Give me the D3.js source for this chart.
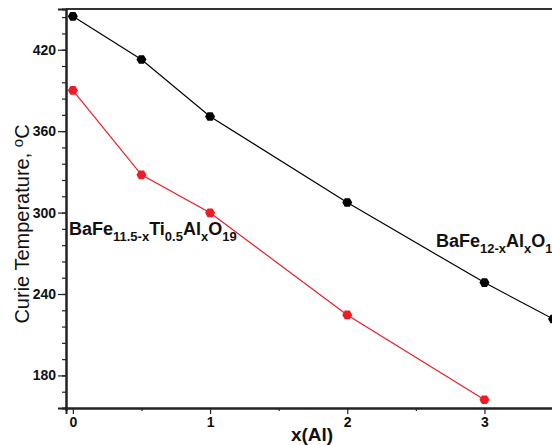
<!DOCTYPE html>
<html><head><meta charset="utf-8">
<script src="https://cdn.jsdelivr.net/npm/d3@7"></script>
<style>body{margin:0;background:#fff}svg{display:block}text{font-family:"Liberation Sans",Arial,sans-serif}</style>
</head><body>
<script>
const xAl = [0, 0.5, 1, 2, 3, 3.5];
const tcBaFeAl = [444.6, 412.8, 370.8, 307.4, 248.4, 221.6];
const xAlTi = [0, 0.5, 1, 2, 3];
const tcBaFeTiAl = [390, 327.8, 299.8, 224.6, 162.1];
const xTicks = [0, 1, 2, 3];
const xMinor = [0.5, 1.5, 2.5, 3.5];
const yTicks = [180, 240, 300, 360, 420];
const yMinor = d3.range(156, 450, 12);

const W = 552, H = 445;
const svg = d3.select("body").append("svg").attr("width", W).attr("height", H);
const x = d3.scaleLinear().domain([-0.05, 3.55]).range([66, 66 + 3.6 * 137.2]);
const y = d3.scaleLinear().domain([156, 450]).range([408, 9]);

// frame top
svg.append("line").attr("x1", 66).attr("x2", 600).attr("y1", 9).attr("y2", 9)
  .attr("stroke", "#333").attr("stroke-width", 2);

// y axis
const ya = svg.append("g").attr("transform", "translate(66,0)");
ya.call(d3.axisLeft(y).tickValues(yMinor).tickSize(4).tickFormat(""));
const yb = svg.append("g").attr("transform", "translate(66,0)");
yb.call(d3.axisLeft(y).tickValues(yTicks).tickSize(8).tickPadding(2).tickFormat(d3.format("d")));
[ya, yb].forEach(g => { g.select(".domain").attr("stroke", "#222").attr("stroke-width", 2);
  g.selectAll(".tick line").attr("stroke", "#222").attr("stroke-width", 1.2); });
yb.selectAll(".tick text").attr("font-size", 14).attr("font-weight", "bold").attr("fill", "#111");

// x axis
const xa = svg.append("g").attr("transform", "translate(0,408)");
xa.call(d3.axisBottom(x).tickValues(xMinor).tickSize(3).tickFormat(""));
const xb = svg.append("g").attr("transform", "translate(0,408)");
xb.call(d3.axisBottom(x).tickValues(xTicks).tickSize(6).tickPadding(3).tickFormat(d3.format("d")));
[xa, xb].forEach(g => { g.select(".domain").attr("stroke", "#222").attr("stroke-width", 2);
  g.selectAll(".tick line").attr("stroke", "#222").attr("stroke-width", 1.2); });
xb.selectAll(".tick text").attr("font-size", 14).attr("font-weight", "bold").attr("fill", "#111");

// axis titles
svg.append("text").attr("x", 312).attr("y", 441).attr("text-anchor", "middle")
  .attr("font-size", 19).attr("font-weight", "bold").attr("fill", "#111").text("x(Al)");
const yt = svg.append("text").attr("transform", "translate(29,224) rotate(-90)")
  .attr("text-anchor", "middle").attr("font-size", 20).attr("fill", "#111");
yt.append("tspan").text("Curie Temperature, ");
yt.append("tspan").attr("font-size", 15).attr("dy", -6).text("o");
yt.append("tspan").attr("dy", 6).text("C");

// series
function hex(r) {
  return d3.range(6).map(i => [r * Math.cos(i * Math.PI / 3), r * Math.sin(i * Math.PI / 3)]);
}
function series(xs, ys, color) {
  const pts = xs.map((d, i) => [d, ys[i]]);
  svg.append("path").datum(pts).attr("fill", "none").attr("stroke", color).attr("stroke-width", 1.2)
    .attr("d", d3.line().x(d => x(d[0])).y(d => y(d[1])));
  svg.selectAll(null).data(pts).enter().append("polygon")
    .attr("points", hex(5).map(p => p.join(",")).join(" "))
    .attr("transform", d => `translate(${x(d[0])},${y(d[1])})`)
    .attr("fill", color);
}
series(xAl, tcBaFeAl, "#000");
series(xAlTi, tcBaFeTiAl, "#ee1c25");

// labels
function label(px, py, parts) {
  const t = svg.append("text").attr("x", px).attr("y", py).attr("font-weight", "bold").attr("fill", "#111").attr("font-size", 18);
  let sub = false;
  parts.forEach(([s, isSub]) => {
    const ts = t.append("tspan").text(s);
    if (isSub && !sub) { ts.attr("dy", 6).attr("font-size", 13); sub = true; }
    else if (isSub) { ts.attr("font-size", 13); }
    else if (!isSub && sub) { ts.attr("dy", -6); sub = false; }
  });
}
label(69, 235, [["BaFe", false], ["11.5-x", true], ["Ti", false], ["0.5", true], ["Al", false], ["x", true], ["O", false], ["19", true]]);
label(436, 247, [["BaFe", false], ["12-x", true], ["Al", false], ["x", true], ["O", false], ["19", true]]);
</script>
</body></html>
